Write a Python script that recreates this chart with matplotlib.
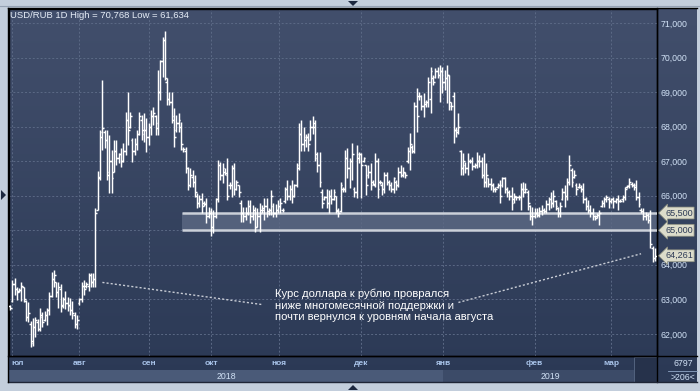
import numpy as np
import matplotlib
matplotlib.use("Agg")
import matplotlib.pyplot as plt
import matplotlib.transforms as mtransforms
from matplotlib.patches import Rectangle, Polygon
from matplotlib.colors import LinearSegmentedColormap

plt.rcParams['font.family'] = ['Liberation Sans', 'DejaVu Sans']

# daily OHLC, USD/RUB, July 2018 - March 2019
opens = [
    62.80, 62.95, 63.45, 63.30, 63.25, 63.28, 63.35, 62.95, 62.50, 62.30, 61.80, 62.20, 62.35, 62.15, 62.50,
    62.40, 62.55, 62.70, 63.10, 63.60, 63.50, 63.20, 63.30, 62.85, 63.00, 62.90, 62.85, 62.70, 62.55, 62.30,
    62.90, 63.00, 63.40, 63.40, 63.40, 63.70, 63.50, 63.60, 65.60, 66.50, 67.85, 67.85, 67.60, 66.70, 67.00,
    66.70, 67.30, 67.10, 67.20, 67.00, 67.30, 68.20, 68.00, 67.60, 67.30, 67.50, 67.80, 68.20, 67.90, 67.90, 67.70,
    68.00, 68.30, 68.30, 67.97, 69.00, 69.90, 70.50, 69.30, 68.80, 68.70, 68.20, 67.90, 68.10, 68.00, 67.35,
    67.30, 66.80, 66.30, 66.55, 66.40, 66.00, 65.80, 65.90, 65.80, 65.80, 65.40, 65.50,
    65.10, 65.40, 65.90, 66.90, 66.60, 66.70, 66.60, 66.30, 66.30, 66.80, 66.20, 66.30, 65.80, 65.50, 65.40,
    65.50, 65.70, 65.40, 65.60, 65.10, 65.40, 65.60, 65.60, 65.70, 65.55, 65.60, 65.70, 65.50, 65.60,
    65.70, 65.60, 65.85, 66.20, 66.00, 66.20, 66.00, 66.30, 66.80, 67.80, 67.50, 67.60, 67.70, 67.60, 68.00,
    68.00, 67.10, 66.90, 66.10, 65.90, 65.95, 65.80, 66.00, 65.90, 66.00, 65.55, 65.55, 66.20, 66.20, 67.10,
    66.80, 67.00, 66.20, 66.10, 67.10, 67.20,
    67.00, 66.90, 66.60, 66.70, 66.40, 66.30, 67.00, 66.40, 66.30, 66.20, 66.60, 66.40, 66.30, 66.20, 66.40,
    66.30, 66.70, 66.60, 66.65, 67.00, 67.30, 67.40, 67.30, 68.60, 68.90, 68.90, 68.60, 68.65, 68.70, 68.80,
    69.40, 69.45, 69.60, 69.50, 69.60,
    69.30, 69.40, 69.50, 68.60, 68.90, 67.90, 67.90, 67.30, 66.80, 66.90, 66.80, 67.00, 67.00, 66.85, 66.90,
    67.00, 67.00, 66.60, 66.40, 66.50, 66.35, 66.30, 66.20, 66.25, 66.30, 66.30, 66.50, 66.20, 66.10, 66.00,
    65.90, 65.95, 65.95, 65.95, 66.20, 66.20, 66.10, 65.70, 65.40,
    65.40, 65.50, 65.45, 65.55, 65.60, 65.55, 65.75, 65.90, 65.80, 65.85, 65.65, 65.50, 65.90, 66.10, 66.00,
    66.40, 66.75, 66.55, 66.30, 66.25, 66.25, 66.20, 65.90, 65.70, 65.60, 65.50, 65.40, 65.40, 65.45, 65.70,
    65.80, 65.90, 65.90, 65.85,
    65.90, 65.85, 65.90, 65.86, 65.90, 65.95, 66.25, 66.30, 66.35, 66.30, 66.30, 65.95, 65.60, 65.55, 65.40,
    65.45, 65.40, 64.50, 64.20,
]
highs = [
    62.85, 63.57, 63.63, 63.37, 63.34, 63.49, 63.37, 62.99, 62.91, 62.36, 62.47, 62.50, 62.42, 62.76, 62.62,
    62.65, 62.76, 63.20, 63.80, 63.86, 63.51, 63.51, 63.43, 63.08, 63.23, 63.08, 63.05, 62.94, 62.62, 62.56,
    63.05, 63.51, 63.57, 63.51, 63.77, 63.77, 63.77, 65.65, 66.72, 67.91, 69.35, 67.91, 67.91, 67.76, 67.33,
    67.62, 67.62, 67.24, 67.39, 67.53, 68.43, 69.01, 68.43, 67.68, 67.68, 67.91, 68.43, 68.34, 68.40, 68.26, 68.11,
    68.49, 68.57, 68.34, 69.64, 69.93, 70.60, 70.768, 69.41, 69.00, 69.00, 68.54, 68.34, 68.40, 68.14, 67.42,
    67.42, 66.84, 66.81, 66.75, 66.61, 66.09, 66.03, 66.09, 65.85, 65.94, 65.68, 65.65,
    65.60, 65.94, 67.04, 66.98, 66.95, 66.80, 67.10, 66.40, 66.90, 66.95, 66.46, 66.32, 65.88, 65.68, 65.68,
    65.88, 65.88, 65.74, 65.68, 65.65, 65.80, 65.74, 65.94, 65.94, 65.65, 66.17, 65.80, 65.77, 65.88,
    65.94, 65.65, 66.26, 66.46, 66.32, 66.46, 66.35, 66.95, 68.11, 68.20, 68.00, 67.80, 67.82, 68.20, 68.30,
    68.20, 67.27, 67.27, 66.20, 66.00, 66.20, 66.17, 66.20, 66.20, 66.00, 65.65, 66.40, 66.26, 67.33, 67.39,
    67.10, 67.53, 66.26, 67.47, 67.27, 67.24,
    67.13, 66.90, 66.90, 66.95, 66.45, 67.24, 67.10, 66.46, 66.40, 66.69, 66.69, 66.46, 66.40, 66.55, 66.46,
    66.84, 66.90, 66.84, 66.69, 67.42, 67.82, 67.47, 68.71, 69.12, 69.00, 68.92, 68.98, 68.77, 69.44, 69.73,
    69.50, 69.70, 69.73, 69.79, 69.73,
    69.64, 69.79, 69.50, 68.72, 69.00, 68.00, 68.40, 67.33, 67.24, 66.98, 67.24, 67.05, 67.13, 66.95, 67.27,
    67.18, 67.13, 67.24, 66.95, 66.52, 66.52, 66.38, 66.26, 66.38, 66.46, 66.55, 66.55, 66.26, 66.17, 66.26,
    66.09, 66.00, 66.03, 66.38, 66.40, 66.38, 66.17, 65.74, 65.68,
    65.65, 65.65, 65.68, 65.74, 65.65, 65.88, 65.97, 66.12, 66.17, 65.88, 65.68, 65.83, 66.23, 66.32, 66.52,
    67.18, 66.81, 66.75, 66.38, 66.38, 66.32, 66.38, 65.97, 65.88, 65.74, 65.65, 65.45, 65.51, 65.60, 65.88,
    65.97, 66.03, 65.97, 65.94,
    65.97, 65.94, 66.03, 65.90, 66.03, 66.26, 66.32, 66.52, 66.40, 66.38, 66.46, 66.12, 65.65, 65.65, 65.54,
    65.51, 65.60, 64.53, 64.50,
]
lows = [
    62.70, 62.91, 63.14, 62.99, 63.20, 62.94, 62.91, 62.36, 62.33, 61.634, 61.64, 61.92, 62.07, 62.07, 62.21,
    62.36, 62.27, 62.56, 63.08, 63.37, 63.08, 62.76, 62.62, 62.76, 62.71, 62.65, 62.56, 62.42, 62.18, 62.13,
    62.85, 62.91, 63.14, 63.34, 63.23, 63.37, 63.37, 63.37, 65.60, 66.46, 67.33, 67.39, 66.46, 66.08, 66.08,
    66.69, 66.90, 66.95, 66.84, 66.98, 67.18, 67.47, 67.97, 66.98, 67.18, 67.33, 67.76, 67.62, 67.56, 67.27, 67.47,
    67.76, 68.05, 67.76, 67.76, 68.77, 69.44, 69.35, 68.63, 68.63, 68.11, 67.42, 67.85, 67.85, 67.33, 67.27,
    66.66, 66.17, 66.26, 66.26, 65.97, 65.65, 65.68, 65.51, 65.70, 65.22, 65.36, 64.82,
    64.93, 65.36, 65.83, 66.46, 66.38, 66.60, 65.88, 66.20, 65.97, 66.03, 66.17, 65.97, 65.25, 65.25, 65.31,
    65.45, 65.22, 65.31, 64.96, 65.10, 64.96, 65.51, 65.31, 65.39, 65.45, 65.45, 65.39, 65.39, 65.51,
    65.51, 65.54, 65.80, 65.88, 65.88, 65.80, 65.97, 66.26, 66.75, 67.30, 67.30, 67.40, 67.30, 67.60, 67.80,
    67.00, 66.69, 66.26, 65.65, 65.88, 65.65, 65.51, 65.75, 65.88, 65.51, 65.39, 65.54, 66.12, 66.12, 66.52,
    66.23, 66.46, 65.97, 65.94, 66.95, 65.94,
    66.98, 66.03, 66.52, 66.17, 66.30, 66.26, 65.94, 66.35, 66.03, 66.09, 66.30, 66.17, 66.12, 66.09, 66.17,
    66.26, 66.55, 66.55, 66.52, 66.95, 66.75, 67.24, 67.24, 67.85, 68.77, 68.49, 68.28, 68.57, 68.57, 68.40,
    69.21, 69.41, 69.41, 68.72, 68.98,
    69.06, 68.69, 68.49, 68.49, 67.53, 67.70, 67.80, 66.61, 66.61, 66.66, 66.61, 66.95, 66.75, 66.81, 66.81,
    66.84, 66.52, 66.26, 66.26, 66.26, 66.17, 66.12, 66.12, 66.23, 65.80, 66.26, 66.09, 65.97, 65.88, 65.60,
    65.80, 65.88, 65.88, 65.60, 65.97, 66.09, 65.60, 65.31, 65.16,
    65.36, 65.39, 65.39, 65.45, 65.51, 65.51, 65.60, 65.65, 65.68, 65.60, 65.39, 65.39, 65.88, 65.68, 65.88,
    66.32, 66.26, 66.52, 66.03, 66.23, 66.12, 65.80, 65.60, 65.51, 65.39, 65.31, 65.31, 65.36, 65.16, 65.68,
    65.68, 65.83, 65.65, 65.80,
    65.65, 65.80, 65.60, 65.82, 65.83, 65.88, 66.23, 66.23, 66.26, 66.17, 65.88, 65.68, 65.51, 65.31, 65.31,
    65.22, 64.50, 64.09, 64.10,
]
closes = [
    62.75, 63.45, 63.30, 63.20, 63.28, 63.40, 63.00, 62.50, 62.60, 61.75, 62.20, 62.40, 62.15, 62.55, 62.35,
    62.55, 62.70, 63.10, 63.60, 63.70, 63.20, 63.35, 62.80, 63.00, 62.90, 62.80, 62.70, 62.60, 62.30, 62.40,
    63.00, 63.40, 63.30, 63.45, 63.70, 63.50, 63.60, 65.50, 66.55, 67.70, 67.95, 67.60, 66.60, 67.00, 66.50,
    67.30, 67.10, 67.20, 67.00, 67.30, 68.20, 67.90, 68.30, 67.30, 67.50, 67.80, 68.30, 67.80, 67.90, 67.70, 68.00,
    68.30, 68.40, 68.10, 69.00, 69.90, 70.50, 69.40, 68.80, 68.70, 68.30, 67.70, 68.10, 68.20, 67.50, 67.35,
    66.80, 66.30, 66.60, 66.40, 66.10, 65.80, 65.90, 65.70, 65.75, 65.40, 65.55, 65.10,
    65.40, 65.90, 66.90, 66.60, 66.80, 66.65, 66.00, 66.30, 66.80, 66.20, 66.40, 66.10, 65.50, 65.40, 65.50,
    65.70, 65.40, 65.60, 65.10, 65.40, 65.50, 65.65, 65.70, 65.50, 65.60, 66.00, 65.50, 65.60, 65.70,
    65.80, 65.60, 66.20, 66.00, 66.20, 66.00, 66.30, 66.90, 67.80, 67.50, 67.70, 67.70, 67.50, 68.00, 68.10,
    67.20, 66.90, 66.40, 65.80, 65.95, 65.80, 66.00, 65.90, 66.10, 65.60, 65.50, 66.30, 66.20, 67.10, 66.80,
    67.00, 67.20, 66.10, 67.20, 67.20, 66.90,
    67.10, 66.30, 66.70, 66.30, 66.35, 67.00, 66.20, 66.40, 66.20, 66.60, 66.40, 66.30, 66.20, 66.50, 66.30,
    66.70, 66.60, 66.70, 66.60, 67.30, 67.50, 67.30, 68.60, 68.30, 68.90, 68.60, 68.70, 68.70, 69.30, 69.60,
    69.30, 69.60, 69.50, 69.60, 69.30,
    69.40, 69.50, 68.70, 68.60, 67.90, 67.85, 68.00, 66.80, 67.00, 66.80, 67.00, 67.00, 66.85, 66.90, 67.00,
    67.00, 66.60, 66.40, 66.60, 66.35, 66.30, 66.20, 66.20, 66.30, 66.00, 66.50, 66.20, 66.10, 66.00, 65.80,
    66.00, 65.95, 65.95, 66.20, 66.10, 66.20, 65.80, 65.40, 65.40,
    65.50, 65.45, 65.55, 65.60, 65.55, 65.75, 65.90, 65.80, 66.00, 65.70, 65.50, 65.70, 66.10, 66.00, 66.40,
    66.90, 66.40, 66.60, 66.20, 66.30, 66.20, 65.90, 65.70, 65.60, 65.50, 65.40, 65.35, 65.45, 65.50, 65.80,
    65.90, 65.95, 65.85, 65.90,
    65.85, 65.90, 65.85, 65.86, 65.95, 66.20, 66.28, 66.40, 66.30, 66.25, 65.95, 65.75, 65.55, 65.40, 65.45,
    65.30, 64.60, 64.20, 64.261,
]

month_labels = ["юл", "авг", "сен", "окт", "ноя", "дек", "янв", "фев", "мар"]
month_pos = [0.7, 30, 60.3, 87.1, 116.5, 152, 187.5, 227, 260]   # bar index of each month start
price_ticks = [62, 63, 64, 65, 66, 67, 68, 69, 70, 71]

support_lo, support_hi = 65.0, 65.5
support_from = 74.3
tags = [(65.5, "65,500"), (65.0, "65,000"), (closes[-1], "64,261")]

note = ("Курс доллара к рублю проврался\n"
        "ниже многомесячной поддержки и\n"
        "почти вернулся к уровням начала августа")
callout_left = ([40, 109], [63.49, 62.85])
callout_right = ([194, 273], [62.91, 64.32])

W, H = 700, 391
n = len(closes)
x = np.arange(n)

fig = plt.figure(figsize=(W / 100, H / 100), dpi=100, facecolor='#c3cedc')

# chrome drawn in pixel coordinates
bg = fig.add_axes([0, 0, 1, 1], zorder=0)
bg.set_xlim(0, W)
bg.set_ylim(H, 0)
bg.axis('off')
cmap = LinearSegmentedColormap.from_list('bg', ['#424f6c', '#2b3955'])
bg.imshow(np.linspace(0, 1, 256)[:, None], extent=(8, 697, 382, 8), cmap=cmap, aspect='auto')

ax = fig.add_axes([9 / W, (H - 356) / H, (657 - 9) / W, (356 - 8.5) / H], zorder=1)
ax.set_facecolor('none')
ax.set_xlim(-0.4, n - 0.1)
ax.set_ylim(61.36, 71.42)
for s in ax.spines.values():
    s.set_color('black')
    s.set_linewidth(1.0)

# the 65,000 scale label sits under its price tag
tag_prices = [round(p, 3) for p, _ in tags]
ax.yaxis.tick_right()
ax.set_yticks(price_ticks)
ax.set_yticklabels(["" if p in tag_prices else f"{p},000" for p in price_ticks])
ax.tick_params(axis='y', length=0, pad=2.5, labelsize=6.3, labelcolor='#d2e2f6')
ax.set_xticks(month_pos)
ax.set_xticklabels(month_labels)
ax.tick_params(axis='x', length=0, pad=3, labelsize=6, labelcolor='#a9c4ea')
for lab in ax.get_xticklabels():
    lab.set_fontweight('bold')
ax.get_xticklabels()[0].set_ha('left')
ax.grid(True, color='#5b6985', linestyle=(0, (2, 2)), linewidth=0.7)
ax.set_axisbelow(True)

# support band
ax.add_patch(Rectangle((support_from, support_lo), n + 2 - support_from, support_hi - support_lo,
                       facecolor='#5d6984', alpha=0.8, edgecolor='none', zorder=2))
ax.hlines([support_lo, support_hi], support_from, n + 2, colors='#cbd0d9', linewidth=1.8, zorder=3)

# OHLC bars
ax.vlines(x, lows, highs, colors='white', linewidth=1.05, zorder=4)
ax.hlines(opens, x - 0.75, x, colors='white', linewidth=1.05, zorder=4)
ax.hlines(closes, x, x + 0.75, colors='white', linewidth=1.05, zorder=4)

# callout
ax.plot(*callout_left, color='#c9cdd6', linewidth=1.0, linestyle=(0, (1.5, 1.5)), zorder=3)
ax.plot(*callout_right, color='#c9cdd6', linewidth=1.0, linestyle=(0, (1.5, 1.5)), zorder=3)
ax.text(114.5, 63.30, note, color='white', fontsize=8.1, va='top', ha='left', linespacing=1.15, zorder=5)

# price tags on the right scale
trans = mtransforms.blended_transform_factory(ax.transAxes, ax.transData)
for price, label in tags:
    ax.text(1.0 + 8 / 648, price, label, transform=trans, ha='left', va='center', fontsize=6.5,
            color='#2d3a55', clip_on=False, zorder=6,
            bbox=dict(boxstyle='larrow,pad=0.16', fc='#dcdccb', ec='#8e9080', lw=0.5))

fig.text(10 / W, 1 - 15 / H, "USD/RUB 1D High = 70,768 Low = 61,634", fontsize=6.8,
         color='#e6edf7', va='center', ha='left')

# bottom strip: years
jan_px = ax.transData.transform((month_pos[6], 0))[0]
bg.add_patch(Rectangle((9, 370), jan_px - 9, 12, fc='#4a5a78', ec='none'))
bg.add_patch(Rectangle((jan_px, 370), 634 - jan_px, 12, fc='#3c4b68', ec='none'))
bg.add_patch(Rectangle((634, 357), 23, 25, fc='#26324b', ec='#5a6a86', lw=0.6))
bg.text((9 + jan_px) / 2, 376.5, "2018", fontsize=6.3, color='#d2e2f6', ha='center', va='center')
bg.text((jan_px + 657) / 2, 376.5, "2019", fontsize=6.3, color='#d2e2f6', ha='center', va='center')
bg.text(683, 364, "6797", fontsize=6.3, color='#d2e2f6', ha='center', va='center')
bg.text(683, 377, ">206<", fontsize=6.3, color='#d2e2f6', ha='center', va='center')
bg.plot([668, 697], [370.5, 370.5], color='#8fa5c5', lw=0.6)

# frame lines
bg.plot([657, 657], [8, 382], color='black', lw=1.0)
bg.plot([8, 697], [356, 356], color='black', lw=1.0)
bg.plot([8, 697], [382, 382], color='#1e2536', lw=1.0)
bg.plot([8, 8], [8, 382], color='black', lw=1.0)
bg.plot([8, 697], [8, 8], color='black', lw=1.0)
bg.plot([0, 700], [6, 6], color='#95a2b4', lw=0.8)

# scroll markers
bg.add_patch(Polygon([(348, 1), (358, 1), (353, 6)], closed=True, fc='#1c2840', ec='none'))
bg.add_patch(Polygon([(348, 390), (358, 390), (353, 385)], closed=True, fc='#1c2840', ec='none'))
bg.add_patch(Polygon([(1, 190), (1, 200), (6, 195)], closed=True, fc='#1c2840', ec='none'))

fig.savefig("out.png", dpi=100, facecolor=fig.get_facecolor())
